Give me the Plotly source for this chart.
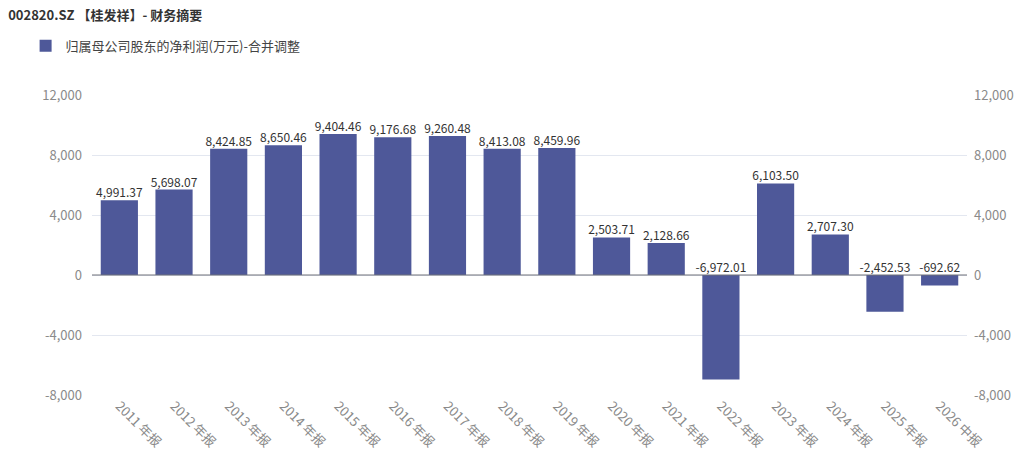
import plotly.graph_objects as go

categories = ["2011 年报", "2012 年报", "2013 年报", "2014 年报", "2015 年报", "2016 年报",
              "2017 年报", "2018 年报", "2019 年报", "2020 年报", "2021 年报", "2022 年报",
              "2023 年报", "2024 年报", "2025 年报", "2026 中报"]
net_profit = [4991.37, 5698.07, 8424.85, 8650.46, 9404.46, 9176.68, 9260.48, 8413.08,
              8459.96, 2503.71, 2128.66, -6972.01, 6103.50, 2707.30, -2452.53, -692.62]
tick_vals = [-8000, -4000, 0, 4000, 8000, 12000]
tick_text = ["-8,000", "-4,000", "0", "4,000", "8,000", "12,000"]

series_name = "归属母公司股东的净利润(万元)-合并调整"
title = "002820.SZ 【桂发祥】- 财务摘要"

FONT = "Noto Sans CJK SC, Microsoft YaHei, sans-serif"
BAR = "#4e5899"

fig = go.Figure()
fig.add_trace(go.Bar(
    x=categories, y=net_profit, name=series_name,
    marker=dict(color=BAR, line=dict(width=0)),
    width=0.68, hoverinfo="x+y",
))
label_y = [max(v, 0) for v in net_profit]
fig.add_trace(go.Scatter(
    x=categories, y=label_y, mode="text",
    text=[f"{v:,.2f}" for v in net_profit],
    textposition="top center",
    textfont=dict(family=FONT, size=12, color="#333333"),
    showlegend=False, hoverinfo="skip", cliponaxis=False,
))
fig.add_trace(go.Scatter(
    x=categories, y=net_profit, yaxis="y2", mode="markers",
    marker=dict(opacity=0, size=1), showlegend=False, hoverinfo="skip",
))

axis_common = dict(
    range=[-8000, 12000], tickvals=tick_vals, ticktext=tick_text,
    showgrid=True, gridcolor="#e3e7f0", gridwidth=1,
    zeroline=False, showline=False, ticks="",
    tickfont=dict(family=FONT, size=13, color="#8a8a8a"),
    fixedrange=True, automargin=False,
)

fig.update_layout(
    width=1024, height=459,
    margin=dict(l=92, r=57, t=95, b=64, autoexpand=False),
    paper_bgcolor="white", plot_bgcolor="white",
    font=dict(family=FONT),
    title=dict(text=title, x=0.008, xanchor="left", y=0.966, yanchor="middle",
               font=dict(family=FONT, size=13, color="#333333", weight="bold")),
    showlegend=True,
    legend=dict(orientation="h", x=0.025, xref="container", xanchor="left",
                y=0.9, yanchor="middle", yref="container",
                font=dict(family=FONT, size=13, color="#444444"),
                bgcolor="rgba(0,0,0,0)"),
    xaxis=dict(
        range=[-0.5, len(categories) - 0.5],
        tickangle=45, showgrid=False, showline=False, zeroline=False, ticks="",
        tickfont=dict(family=FONT, size=13, color="#8a8a8a"), automargin=False,
    ),
    yaxis=dict(**axis_common, side="left", ticklabelstandoff=9),
    yaxis2=dict(**axis_common, side="right", overlaying="y", ticklabelstandoff=6),
    shapes=[dict(type="line", xref="paper", x0=0, x1=1, yref="y", y0=0, y1=0,
                 line=dict(color="#6e7079", width=1), layer="above")],
)

fig.write_html("out.html", config={"displayModeBar": False})

with open("out.html", encoding="utf-8") as f:
    html = f.read()
html = html.replace("<body>", '<body style="margin:0;padding:0;overflow:hidden">', 1)
with open("out.html", "w", encoding="utf-8") as f:
    f.write(html)
